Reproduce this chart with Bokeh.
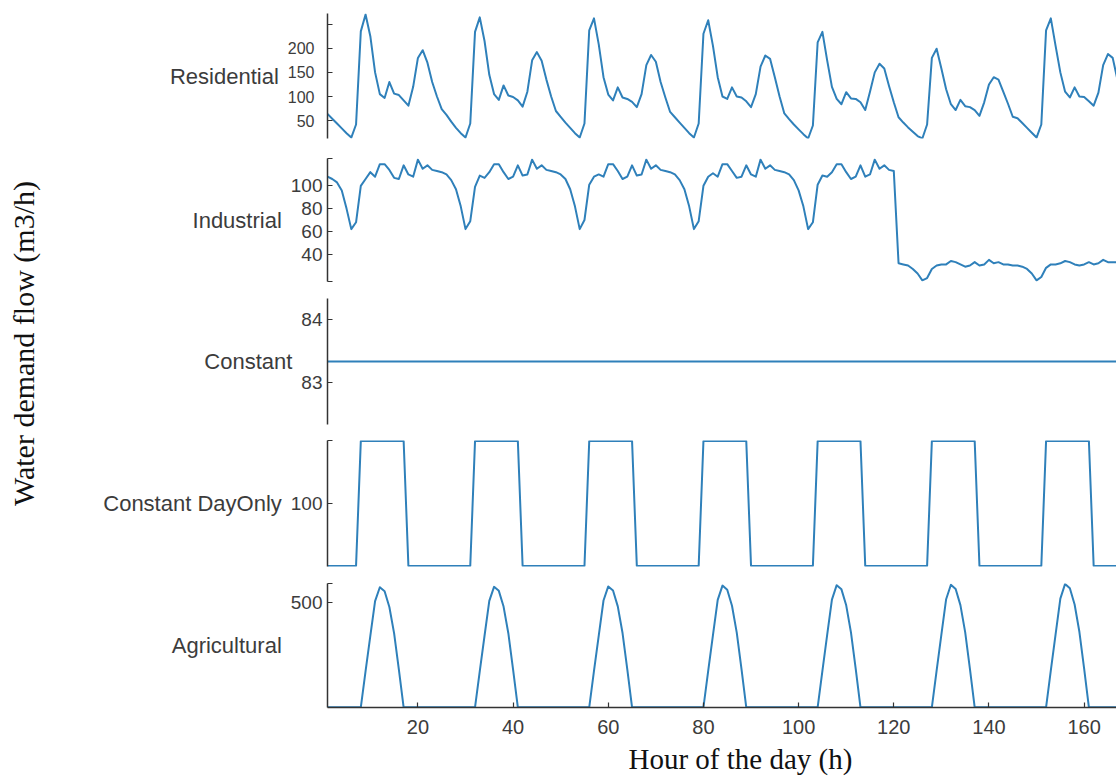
from math import pi

from bokeh.embed import file_html
from bokeh.layouts import column, row
from bokeh.models import FixedTicker, Label, Range1d, Title
from bokeh.plotting import figure
from bokeh.resources import INLINE

# ---- hourly demand over one week (hour 1 .. 168), m3/h ----
hours = list(range(1, 169))

residential = (
    [64, 54, 44, 34, 24, 15, 42, 235, 270, 225, 150, 105, 97, 130, 106, 103, 92, 81, 120, 180, 196, 170, 130, 100]
    + [74, 62, 48, 35, 24, 15, 44, 234, 264, 215, 145, 105, 93, 123, 102, 99, 92, 79, 110, 175, 192, 174, 135, 100]
    + [70, 58, 46, 35, 24, 15, 44, 237, 262, 208, 140, 104, 92, 119, 98, 95, 89, 78, 105, 165, 186, 172, 130, 98]
    + [68, 57, 46, 35, 24, 15, 44, 230, 258, 205, 140, 100, 95, 119, 100, 98, 90, 78, 105, 162, 185, 178, 140, 100]
    + [65, 53, 42, 32, 22, 13, 40, 212, 234, 175, 120, 95, 84, 109, 96, 95, 88, 72, 110, 150, 168, 158, 122, 88]
    + [57, 46, 36, 27, 18, 13, 42, 180, 199, 158, 115, 84, 72, 93, 80, 78, 72, 60, 88, 125, 140, 135, 110, 85]
    + [58, 55, 45, 35, 25, 15, 42, 237, 262, 205, 150, 110, 98, 119, 100, 99, 90, 81, 108, 165, 188, 180, 135, 100]
)

industrial = (
    [108, 106, 103, 96, 80, 62, 68, 100, 106, 112, 108, 119, 119, 114, 107, 106, 118, 110, 108, 123, 115, 118, 114, 113]
    + [112, 110, 105, 97, 82, 62, 69, 99, 109, 107, 112, 119, 119, 112, 106, 108, 118, 109, 110, 123, 115, 118, 114, 113]
    + [112, 110, 106, 97, 82, 62, 70, 101, 108, 110, 108, 119, 119, 113, 106, 108, 118, 109, 110, 123, 115, 118, 114, 113]
    + [112, 110, 105, 97, 82, 62, 69, 100, 108, 111, 108, 119, 119, 113, 107, 108, 118, 110, 108, 123, 115, 118, 114, 113]
    + [112, 110, 105, 96, 82, 62, 68, 101, 109, 108, 112, 119, 119, 112, 106, 108, 118, 108, 110, 123, 115, 118, 114, 113]
    + [32, 31, 30, 27, 23, 17, 19, 27, 30, 31, 31, 34, 33, 31, 29, 30, 33, 30, 31, 35, 32, 33, 31, 31]
    + [30, 30, 29, 27, 23, 17, 20, 28, 31, 31, 32, 34, 33, 31, 30, 31, 33, 31, 32, 35, 33, 33, 33, 33]
)

constant = [83.3333] * 168

day_only = (
    [0, 0, 0, 0, 0, 0, 0, 200, 200, 200, 200, 200, 200, 200, 200, 200, 200, 0, 0, 0, 0, 0, 0, 0]
    + [0, 0, 0, 0, 0, 0, 0, 200, 200, 200, 200, 200, 200, 200, 200, 200, 200, 0, 0, 0, 0, 0, 0, 0]
    + [0, 0, 0, 0, 0, 0, 0, 200, 200, 200, 200, 200, 200, 200, 200, 200, 200, 0, 0, 0, 0, 0, 0, 0]
    + [0, 0, 0, 0, 0, 0, 0, 200, 200, 200, 200, 200, 200, 200, 200, 200, 200, 0, 0, 0, 0, 0, 0, 0]
    + [0, 0, 0, 0, 0, 0, 0, 200, 200, 200, 200, 200, 200, 200, 200, 200, 200, 0, 0, 0, 0, 0, 0, 0]
    + [0, 0, 0, 0, 0, 0, 0, 200, 200, 200, 200, 200, 200, 200, 200, 200, 200, 0, 0, 0, 0, 0, 0, 0]
    + [0, 0, 0, 0, 0, 0, 0, 200, 200, 200, 200, 200, 200, 200, 200, 200, 200, 0, 0, 0, 0, 0, 0, 0]
)

agricultural = (
    [0, 0, 0, 0, 0, 0, 0, 0, 172, 340, 506, 572, 553, 478, 352, 180, 0, 0, 0, 0, 0, 0, 0, 0]
    + [0, 0, 0, 0, 0, 0, 0, 0, 172, 341, 507, 574, 555, 480, 353, 180, 0, 0, 0, 0, 0, 0, 0, 0]
    + [0, 0, 0, 0, 0, 0, 0, 0, 173, 342, 509, 576, 557, 481, 354, 181, 0, 0, 0, 0, 0, 0, 0, 0]
    + [0, 0, 0, 0, 0, 0, 0, 0, 174, 344, 512, 580, 560, 484, 356, 182, 0, 0, 0, 0, 0, 0, 0, 0]
    + [0, 0, 0, 0, 0, 0, 0, 0, 174, 345, 513, 582, 562, 486, 357, 183, 0, 0, 0, 0, 0, 0, 0, 0]
    + [0, 0, 0, 0, 0, 0, 0, 0, 175, 346, 515, 584, 564, 487, 358, 183, 0, 0, 0, 0, 0, 0, 0, 0]
    + [0, 0, 0, 0, 0, 0, 0, 0, 176, 348, 518, 588, 567, 490, 360, 184, 0, 0, 0, 0, 0, 0, 0, 0]
)

x_ticks = [20, 40, 60, 80, 100, 120, 140, 160]

LINE = "#2f80ba"
AXIS = "#333333"
TEXT = "#3c3c3c"
SANS = "Liberation Sans"
SERIF = "Liberation Serif"

x_range = Range1d(1, 166.8)


def panel(name, values, y_lo, y_hi, ticks, hidden, top, frame_h, bottom,
          tick_size="19px", tick_standoff=5, bottom_axis=False):
    p = figure(
        width=1056, height=top + frame_h + bottom,
        x_range=x_range, y_range=Range1d(y_lo, y_hi),
        output_backend="svg", toolbar_location=None,
        min_border_left=267, min_border_right=0,
        min_border_top=top, min_border_bottom=bottom,
    )
    p.grid.visible = False
    p.outline_line_color = None
    p.background_fill_color = "white"
    p.border_fill_color = "white"

    p.line(hours, values, line_color=LINE, line_width=2, line_join="round")

    ya = p.yaxis[0]
    ya.ticker = FixedTicker(ticks=ticks)
    ya.major_label_overrides = {t: "" for t in hidden}
    ya.minor_tick_line_color = None
    ya.major_tick_in = 5
    ya.major_tick_out = 0
    ya.axis_line_color = AXIS
    ya.axis_line_width = 1.5
    ya.major_tick_line_color = AXIS
    ya.major_tick_line_width = 1.2
    ya.major_label_text_font = SANS
    ya.major_label_text_font_size = tick_size
    ya.major_label_text_color = TEXT
    ya.major_label_standoff = tick_standoff
    ya.axis_label = name
    ya.axis_label_orientation = "horizontal"
    ya.axis_label_text_font = SANS
    ya.axis_label_text_font_size = "22px"
    ya.axis_label_text_font_style = "normal"
    ya.axis_label_text_color = TEXT
    ya.axis_label_standoff = 6

    xa = p.xaxis[0]
    if bottom_axis:
        xa.ticker = FixedTicker(ticks=x_ticks)
        xa.minor_tick_line_color = None
        xa.major_tick_in = 5
        xa.major_tick_out = 0
        xa.axis_line_color = AXIS
        xa.axis_line_width = 1.5
        xa.major_tick_line_color = AXIS
        xa.major_tick_line_width = 1.2
        xa.major_label_text_font = SANS
        xa.major_label_text_font_size = "20px"
        xa.major_label_text_color = TEXT
        xa.major_label_standoff = 12
        p.add_layout(
            Title(text="Hour of the day (h)", align="left", offset=301,
                  text_font=SERIF, text_font_size="29px", text_font_style="normal",
                  text_color="#111111", standoff=8),
            "below",
        )
    else:
        xa.visible = False
    return p


p_res = panel("Residential", residential, 13, 272, [50, 100, 150, 200, 250], [250],
              13, 125, 9, tick_size="16px", tick_standoff=13)
p_ind = panel("Industrial", industrial, 16, 124, [16, 40, 60, 80, 100, 124], [16, 124],
              11, 123, 9)
p_con = panel("Constant", constant, 82.3333, 84.3333, [83, 84], [],
              8, 126, 8)
p_day = panel("Constant DayOnly", day_only, -1, 201, [100, 201], [201],
              8, 126, 9)
p_agr = panel("Agricultural", agricultural, -1, 590, [500, 590], [590],
              8, 124, 71, bottom_axis=True)

# shared vertical title for all panels
p_title = figure(
    width=60, height=778, x_range=(0, 60), y_range=(0, 778),
    x_axis_type=None, y_axis_type=None,
    output_backend="svg", toolbar_location=None, min_border=0,
)
p_title.grid.visible = False
p_title.outline_line_color = None
p_title.add_layout(Label(
    x=23, y=435, text="Water demand flow (m3/h)", angle=pi / 2,
    text_align="center", text_baseline="middle",
    text_font=SERIF, text_font_size="30px", text_color="#111111",
))

layout = row(p_title, column(p_res, p_ind, p_con, p_day, p_agr, spacing=0), spacing=0)

open("out.html", "w").write(file_html(layout, INLINE))
